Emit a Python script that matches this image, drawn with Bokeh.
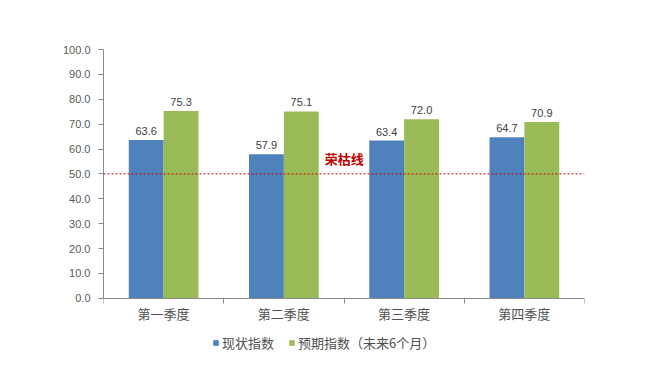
from bokeh.plotting import figure
from bokeh.models import (ColumnDataSource, FixedTicker, NumeralTickFormatter, Span,
                          Legend, LegendItem, Range1d, Label)
from bokeh.embed import file_html
from bokeh.resources import INLINE
from bokeh.core.properties import value

categories = ["第一季度", "第二季度", "第三季度", "第四季度"]
current_idx = [63.6, 57.9, 63.4, 64.7]
expect_idx = [75.3, 75.1, 72.0, 70.9]
series_names = ["现状指数", "预期指数（未来6个月）"]
threshold = 50.0
threshold_label = "荣枯线"

BLUE = "#4F81BD"
GREEN = "#9BBB59"
NUM_FONT = "Liberation Sans"
CJK_FONT = "Noto Sans CJK SC"

n = len(categories)
centers = [i + 0.5 for i in range(n)]
bw = 0.29
off = bw / 2

src_a = ColumnDataSource(dict(x=[c - off for c in centers], top=current_idx,
                              lbl=[f"{v:.1f}" for v in current_idx]))
src_b = ColumnDataSource(dict(x=[c + off for c in centers], top=expect_idx,
                              lbl=[f"{v:.1f}" for v in expect_idx]))

p = figure(width=646, height=362, output_backend="svg", toolbar_location=None,
           x_range=Range1d(0, n), y_range=Range1d(-25, 100),
           min_border_left=103, min_border_right=62, min_border_top=49, min_border_bottom=2)
p.outline_line_color = None
p.xgrid.visible = False
p.ygrid.visible = False
p.background_fill_color = "white"

r1 = p.vbar(x="x", top="top", bottom=0, width=bw, source=src_a, fill_color=BLUE, line_color=None)
r2 = p.vbar(x="x", top="top", bottom=0, width=bw, source=src_b, fill_color=GREEN, line_color=None)

for src in (src_a, src_b):
    p.text(x="x", y="top", text="lbl", source=src, text_align="center", text_baseline="bottom",
           y_offset=-5, text_font=value(NUM_FONT), text_font_size="11px", text_color="#404040")

p.add_layout(Span(location=threshold, dimension="width", line_color="#C00000",
                  line_dash="2 2", line_width=1))
p.add_layout(Label(x=1.84, y=threshold, y_offset=6, text=threshold_label, text_color="#C00000",
                   text_font=CJK_FONT, text_font_style="bold", text_font_size="13px",
                   text_baseline="bottom", text_align="left"))

# y axis
yax = p.yaxis[0]
yax.ticker = FixedTicker(ticks=list(range(0, 101, 10)))
yax.bounds = (0, 100)
yax.formatter = NumeralTickFormatter(format="0.0")
yax.axis_line_color = "#898989"
yax.major_tick_line_color = "#898989"
yax.major_tick_out = 5
yax.major_tick_in = 0
yax.minor_tick_line_color = None
yax.major_label_text_font = NUM_FONT
yax.major_label_text_font_size = "11px"
yax.major_label_text_color = "#595959"
yax.major_label_standoff = 8

# x axis, pinned at y = 0
xax = p.xaxis[0]
xax.fixed_location = 0
xax.ticker = FixedTicker(ticks=centers, minor_ticks=list(range(0, n + 1)))
xax.major_label_overrides = {c: categories[i] for i, c in enumerate(centers)}
xax.axis_line_color = "#898989"
xax.major_tick_line_color = None
xax.major_tick_out = 0
xax.major_tick_in = 0
xax.minor_tick_line_color = "#898989"
xax.minor_tick_out = 5
xax.minor_tick_in = 0
xax.major_label_text_font = CJK_FONT
xax.major_label_text_font_size = "13px"
xax.major_label_text_color = "#505050"
xax.major_label_standoff = 1

legend = Legend(items=[LegendItem(label=series_names[0], renderers=[r1]),
                       LegendItem(label=series_names[1], renderers=[r2])],
                location=(109, 8), orientation="horizontal",
                glyph_width=7, glyph_height=7, label_standoff=3, spacing=14,
                padding=0, margin=0, border_line_color=None, background_fill_alpha=0,
                label_text_font=CJK_FONT, label_text_font_size="13px",
                label_text_color="#505050")
p.add_layout(legend, "center")

open("out.html", "w").write(file_html(p, INLINE))
